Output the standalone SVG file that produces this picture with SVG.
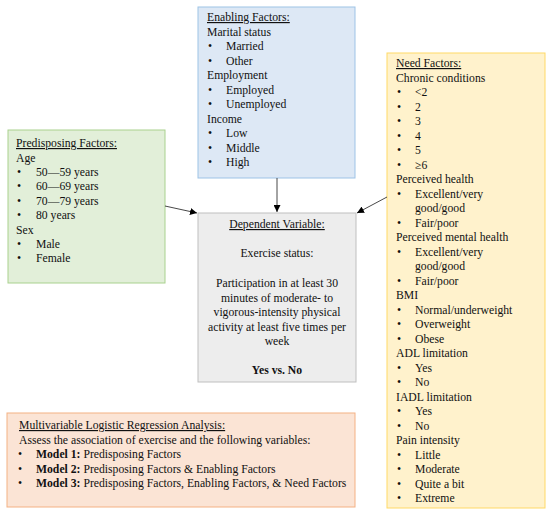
<svg xmlns="http://www.w3.org/2000/svg" width="550" height="515" viewBox="0 0 550 515">
<defs>
<marker id="ah" viewBox="0 0 10 10" refX="10" refY="5" markerWidth="7" markerHeight="7" markerUnits="userSpaceOnUse" orient="auto"><path d="M0,0 L10,5 L0,10 z" fill="#000"/></marker>
<style>
text{font-family:"Liberation Serif","Times New Roman",serif;font-size:11.7px;fill:#111}
.h{text-decoration:underline}
.b{font-weight:bold}
.c{text-anchor:middle}
.con line{stroke:#333;stroke-width:0.9;fill:none}
</style>
</defs>
<rect width="550" height="515" fill="#fff"/>
<g id="predisposing">
<rect x="8" y="130" width="157" height="153" fill="#e2efd9" stroke="#a9d18e" stroke-width="1"/>
<text x="16" y="147" class="h">Predisposing Factors:</text>
<text x="16" y="161.5">Age</text>
<text x="17" y="176">•</text><text x="36" y="176">50—59 years</text>
<text x="17" y="190.4">•</text><text x="36" y="190.4">60—69 years</text>
<text x="17" y="204.8">•</text><text x="36" y="204.8">70—79 years</text>
<text x="17" y="219.2">•</text><text x="36" y="219.2">80 years</text>
<text x="16" y="233.6">Sex</text>
<text x="17" y="248">•</text><text x="36" y="248">Male</text>
<text x="17" y="262.4">•</text><text x="36" y="262.4">Female</text>
</g>
<g id="enabling">
<rect x="198" y="7" width="157" height="171" fill="#dde8f5" stroke="#9dc3e6" stroke-width="1"/>
<text x="207" y="21" class="h">Enabling Factors:</text>
<text x="207" y="35.5">Marital status</text>
<text x="208" y="50">•</text><text x="226" y="50">Married</text>
<text x="208" y="64.5">•</text><text x="226" y="64.5">Other</text>
<text x="207" y="79">Employment</text>
<text x="208" y="93.5">•</text><text x="226" y="93.5">Employed</text>
<text x="208" y="108">•</text><text x="226" y="108">Unemployed</text>
<text x="207" y="122.5">Income</text>
<text x="208" y="137">•</text><text x="226" y="137">Low</text>
<text x="208" y="151.5">•</text><text x="226" y="151.5">Middle</text>
<text x="208" y="166">•</text><text x="226" y="166">High</text>
</g>
<g id="need">
<rect x="387" y="53" width="158" height="455" fill="#fff2cc" stroke="#ffd966" stroke-width="1"/>
<text x="396" y="67" class="h">Need Factors:</text>
<text x="396" y="81.5">Chronic conditions</text>
<text x="397" y="96">•</text><text x="415" y="96">&lt;2</text>
<text x="397" y="110.5">•</text><text x="415" y="110.5">2</text>
<text x="397" y="125">•</text><text x="415" y="125">3</text>
<text x="397" y="139.5">•</text><text x="415" y="139.5">4</text>
<text x="397" y="154">•</text><text x="415" y="154">5</text>
<text x="397" y="168.5">•</text><text x="415" y="168.5">≥6</text>
<text x="396" y="183">Perceived health</text>
<text x="397" y="197.5">•</text><text x="415" y="197.5">Excellent/very</text>
<text x="415" y="212">good/good</text>
<text x="397" y="226.5">•</text><text x="415" y="226.5">Fair/poor</text>
<text x="396" y="241">Perceived mental health</text>
<text x="397" y="255.5">•</text><text x="415" y="255.5">Excellent/very</text>
<text x="415" y="270">good/good</text>
<text x="397" y="284.5">•</text><text x="415" y="284.5">Fair/poor</text>
<text x="396" y="299">BMI</text>
<text x="397" y="313.5">•</text><text x="415" y="313.5">Normal/underweight</text>
<text x="397" y="328">•</text><text x="415" y="328">Overweight</text>
<text x="397" y="342.5">•</text><text x="415" y="342.5">Obese</text>
<text x="396" y="357">ADL limitation</text>
<text x="397" y="371.5">•</text><text x="415" y="371.5">Yes</text>
<text x="397" y="386">•</text><text x="415" y="386">No</text>
<text x="396" y="400.5">IADL limitation</text>
<text x="397" y="415">•</text><text x="415" y="415">Yes</text>
<text x="397" y="429.5">•</text><text x="415" y="429.5">No</text>
<text x="396" y="444">Pain intensity</text>
<text x="397" y="458.5">•</text><text x="415" y="458.5">Little</text>
<text x="397" y="473">•</text><text x="415" y="473">Moderate</text>
<text x="397" y="487.5">•</text><text x="415" y="487.5">Quite a bit</text>
<text x="397" y="502">•</text><text x="415" y="502">Extreme</text>
</g>
<g id="dependent">
<rect x="198" y="213" width="158" height="169" fill="#ededed" stroke="#bfbfbf" stroke-width="1"/>
<text x="277" y="228" class="h c">Dependent Variable:</text>
<text x="277" y="257" class="c">Exercise status:</text>
<text x="277" y="287" class="c">Participation in at least 30</text>
<text x="277" y="301.5" class="c">minutes of moderate- to</text>
<text x="277" y="316" class="c">vigorous-intensity physical</text>
<text x="277" y="330.5" class="c">activity at least five times per</text>
<text x="277" y="345" class="c">week</text>
<text x="277" y="374" class="c b">Yes vs. No</text>
</g>
<g id="regression">
<rect x="7" y="413" width="348" height="94" fill="#fbe4d5" stroke="#f4b183" stroke-width="1"/>
<text x="19" y="429" class="h">Multivariable Logistic Regression Analysis:</text>
<text x="19" y="443.5">Assess the association of exercise and the following variables:</text>
<text x="18" y="458">•</text><text x="36" y="458"><tspan class="b">Model 1:</tspan> Predisposing Factors</text>
<text x="18" y="472.5">•</text><text x="36" y="472.5"><tspan class="b">Model 2:</tspan> Predisposing Factors &amp; Enabling Factors</text>
<text x="18" y="487">•</text><text x="36" y="487"><tspan class="b">Model 3:</tspan> Predisposing Factors, Enabling Factors, &amp; Need Factors</text>
</g>
<g id="connectors" class="con">
<line x1="277" y1="178" x2="277" y2="212" marker-end="url(#ah)"/>
<line x1="165" y1="206" x2="197" y2="213" marker-end="url(#ah)"/>
<line x1="387" y1="197" x2="357" y2="213" marker-end="url(#ah)"/>
</g>
</svg>
